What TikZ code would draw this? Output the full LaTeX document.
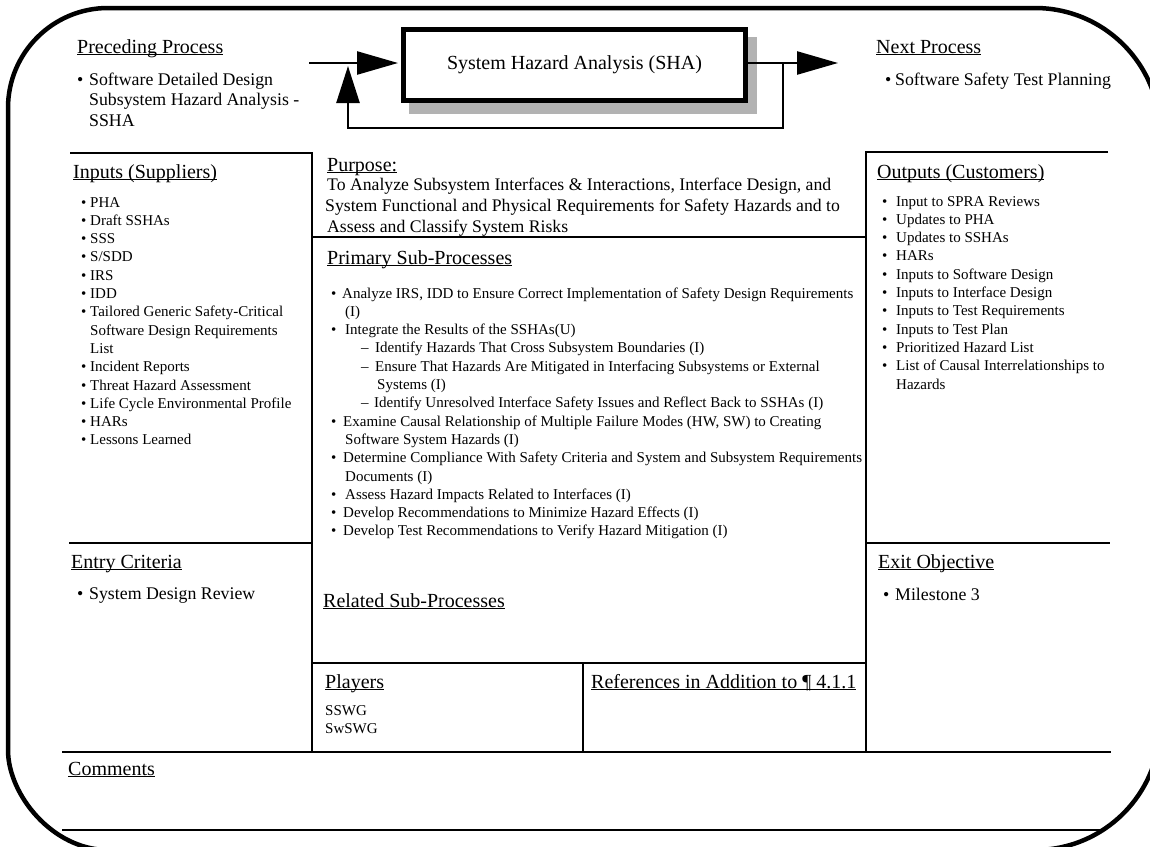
\documentclass[tikz,border=0pt]{standalone}
\usepackage{fontspec}
\setmainfont{Liberation Serif}
\usetikzlibrary{arrows.meta}
\newcommand{\hdul}[1]{\setbox0\hbox{#1}\rlap{\rule[-1.8pt]{\wd0}{0.9pt}}\box0}
\newcommand{\bl}[1][9pt]{\makebox[#1][l]{\textbullet}}
\tikzset{
  frame/.style={line width=4.5pt},
  sect/.style={line width=2.6pt},
  hd/.style={anchor=base west, inner sep=0pt, font=\fontsize{20}{24}\selectfont},
  big/.style={anchor=base west, inner sep=0pt, font=\fontsize{17.8}{20.8}\selectfont},
  purp/.style={anchor=base west, inner sep=0pt, font=\fontsize{17.7}{21.2}\selectfont},
  small/.style={anchor=base west, inner sep=0pt, font=\fontsize{15}{18.3}\selectfont},
  flow/.style={line width=2.5pt, line join=miter, -{Triangle[length=41pt,width=23pt]}},
  upflow/.style={line width=2.5pt, line join=miter, -{Triangle[length=37pt,width=23pt]}},
}
\begin{document}
\begin{tikzpicture}[x=1pt,y=-1pt]
\useasboundingbox (0,0) rectangle (1150,846);
\clip (0,0) rectangle (1150,846);
% outer frame
\draw[frame] (108,8) -- (1035,8)
  .. controls (1104,8) and (1160,64) .. (1160,133) -- (1160,725)
  .. controls (1160,794) and (1104,850) .. (1035,850) -- (108,850)
  .. controls (52.8,850) and (8,794.8) .. (8,750) -- (8,108)
  .. controls (8,52.8) and (52.8,8) .. (108,8) -- cycle;

% ---------- top row ----------
\node[hd] (prechd) at (77,53) {\hdul{Preceding Process}};
\node[big] (preclist) at (77,85) {\begin{tabular}[t]{@{}l@{}}
\bl[12pt]Software Detailed Design\\
\hspace*{12pt}Subsystem Hazard Analysis -\\
\hspace*{12pt}SSHA
\end{tabular}};

\fill[gray!60] (409,37) rectangle (757,114);
\node[draw, fill=white, line width=5pt, minimum width=342pt, minimum height=71pt,
      inner sep=0pt, font=\fontsize{20}{24}\selectfont] (sha) at (574.5,65) {System Hazard Analysis (SHA)};

\coordinate (inS) at (309,63);
\coordinate (outE) at (838,63);
\coordinate (fbtop) at (783,63);
\coordinate (fbbot) at (783,128);
\coordinate (fbend) at (348,66);
\draw[flow, shorten >=3pt] (inS) -- (inS -| sha.west);
\draw[flow] (sha.east |- outE) -- (outE);
\draw[upflow] (fbtop) -- (fbbot) -| (fbend);

\node[hd] (nexthd) at (876,53) {\hdul{Next Process}};
\node[big] (nextlist) at (885,85) {\bl[10pt]Software Safety Test Planning};

% ---------- section rules ----------
\coordinate (lt1) at (70,153);   \coordinate (lt2) at (312,153);
\coordinate (lv2) at (312,752);
\coordinate (rt1) at (866,152);  \coordinate (rt2) at (1108,152);
\coordinate (rv2) at (866,752);
\coordinate (pu1) at (312,237);  \coordinate (pu2) at (866,237);
\coordinate (en1) at (69,543);   \coordinate (en2) at (312,543);
\coordinate (ex1) at (866,543);  \coordinate (ex2) at (1110,543);
\coordinate (pl1) at (312,663);  \coordinate (pl2) at (866,663);
\coordinate (rf1) at (583,663);  \coordinate (rf2) at (583,752);
\coordinate (cm1) at (62,752);   \coordinate (cm2) at (1111,752);
\coordinate (bt1) at (62,830);   \coordinate (bt2) at (1105,830);
\draw[sect] (lt1) -- (lt2) -- (lv2);
\draw[sect] (rt2) -- (rt1) -- (rv2);
\draw[sect] (pu1) -- (pu2);
\draw[sect] (en1) -- (en2);
\draw[sect] (ex1) -- (ex2);
\draw[sect] (pl1) -- (pl2);
\draw[sect] (rf1) -- (rf2);
\draw[sect] (cm1) -- (cm2);
\draw[sect] (bt1) -- (bt2);

% ---------- left column ----------
\node[hd] (inhd) at (73,178) {\hdul{Inputs (Suppliers)}};
\node[small] (inlist) at (81,207) {\begin{tabular}[t]{@{}l@{}}
\bl PHA\\
\bl Draft SSHAs\\
\bl SSS\\
\bl S/SDD\\
\bl IRS\\
\bl IDD\\
\bl Tailored Generic Safety-Critical\\
\hspace*{9pt}Software Design Requirements\\
\hspace*{9pt}List\\
\bl Incident Reports\\
\bl Threat Hazard Assessment\\
\bl Life Cycle Environmental Profile\\
\bl HARs\\
\bl Lessons Learned
\end{tabular}};

\node[hd] (enhd) at (71,568) {\hdul{Entry Criteria}};
\node[big] (enlist) at (77,599) {\bl[12pt]System Design Review};

% ---------- centre ----------
\node[hd] (puhd) at (327,171) {\hdul{Purpose:}};
\node[purp] (putext) at (327,190) {\begin{tabular}[t]{@{}l@{}}
To Analyze Subsystem Interfaces \& Interactions, Interface Design, and\\
\hspace*{-2pt}System Functional and Physical Requirements for Safety Hazards and to\\
Assess and Classify System Risks
\end{tabular}};

\node[hd] (prihd) at (327,264) {\hdul{Primary Sub-Processes}};
\node[small] (prilist) at (331,298) {\begin{tabular}[t]{@{}l@{}}
\bl[11pt]Analyze IRS, IDD to Ensure Correct Implementation of Safety Design Requirements\\
\hspace*{14pt}(I)\\
\bl[14pt]Integrate the Results of the SSHAs(U)\\
\hspace*{30pt}\makebox[14pt][l]{\textendash}Identify Hazards That Cross Subsystem Boundaries (I)\\
\hspace*{30pt}\makebox[14pt][l]{\textendash}Ensure That Hazards Are Mitigated in Interfacing Subsystems or External\\
\hspace*{46pt}Systems (I)\\
\hspace*{30pt}\makebox[13pt][l]{\textendash}Identify Unresolved Interface Safety Issues and Reflect Back to SSHAs (I)\\
\bl[12pt]Examine Causal Relationship of Multiple Failure Modes (HW, SW) to Creating\\
\hspace*{14pt}Software System Hazards (I)\\
\bl[12pt]Determine Compliance With Safety Criteria and System and Subsystem Requirements\\
\hspace*{14pt}Documents (I)\\
\bl[14pt]Assess Hazard Impacts Related to Interfaces (I)\\
\bl[12pt]Develop Recommendations to Minimize Hazard Effects (I)\\
\bl[12pt]Develop Test Recommendations to Verify Hazard Mitigation (I)
\end{tabular}};

\node[hd] (relhd) at (323,607) {\hdul{Related Sub-Processes}};

\node[hd] (plhd) at (325,688) {\hdul{Players}};
\node[small] (pllist) at (325,715) {\begin{tabular}[t]{@{}l@{}}
SSWG\\
SwSWG
\end{tabular}};
\node[hd] (refhd) at (591,688) {\hdul{References in Addition to ¶ 4.1.1}};

% ---------- right column ----------
\node[hd] (outhd) at (877,178) {\hdul{Outputs (Customers)}};
\node[small] (outlist) at (882,206) {\begin{tabular}[t]{@{}l@{}}
\bl[14pt]Input to SPRA Reviews\\
\bl[14pt]Updates to PHA\\
\bl[14pt]Updates to SSHAs\\
\bl[14pt]HARs\\
\bl[14pt]Inputs to Software Design\\
\bl[14pt]Inputs to Interface Design\\
\bl[14pt]Inputs to Test Requirements\\
\bl[14pt]Inputs to Test Plan\\
\bl[14pt]Prioritized Hazard List\\
\bl[14pt]List of Causal Interrelationships to\\
\hspace*{14pt}Hazards
\end{tabular}};

\node[hd] (exhd) at (878,568) {\hdul{Exit Objective}};
\node[big] (exlist) at (883,600) {\bl[12pt]Milestone 3};

% ---------- bottom ----------
\node[hd] (cmhd) at (68,775) {\hdul{Comments}};
\end{tikzpicture}
\end{document}
